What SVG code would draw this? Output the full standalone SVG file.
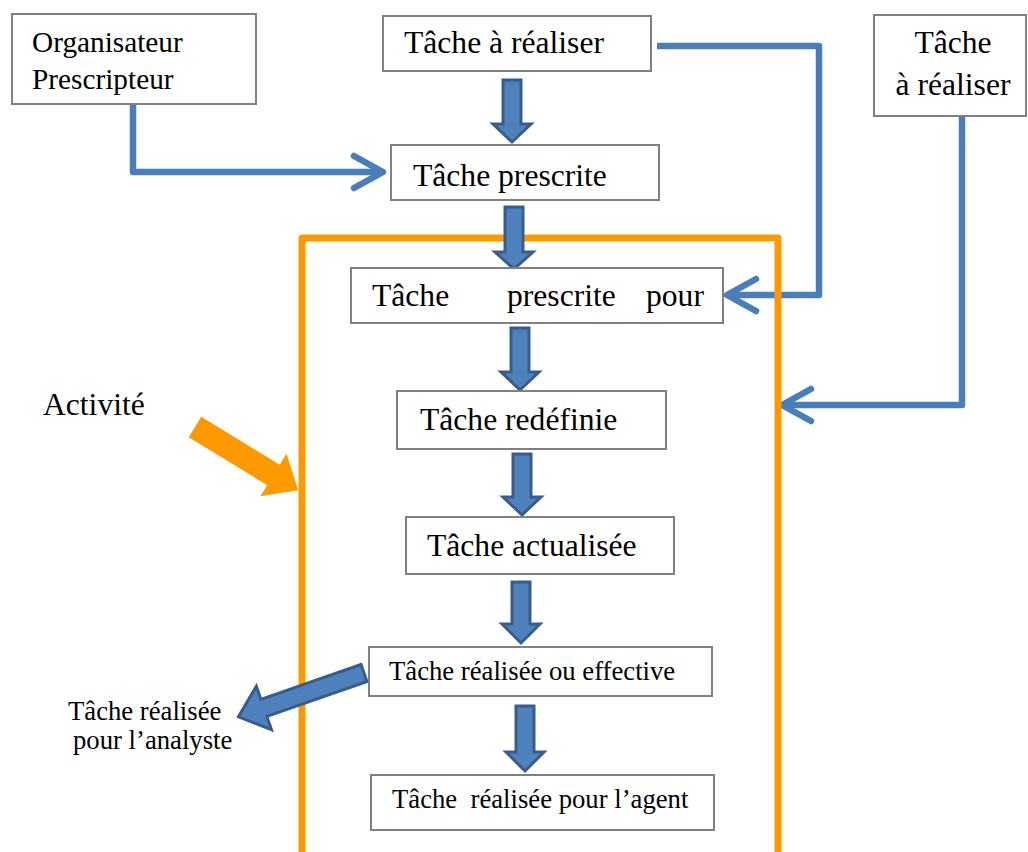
<svg xmlns="http://www.w3.org/2000/svg" width="1028" height="852" viewBox="0 0 1028 852">
<style>
.box{fill:#fff;stroke:#808080;stroke-width:2}
.t{font-family:"Liberation Serif","Times New Roman",serif;fill:#000}
.big{font-size:31.6px}
.mid{font-size:29.3px}
.sm{font-size:26.7px}
.conn{fill:none;stroke:#4a7ebb;stroke-width:6.5;stroke-linejoin:round}
.blk{fill:#4f81bd;stroke:#385d8a;stroke-width:3;stroke-linejoin:miter}
.org{fill:#ff9900}
</style>
<defs>
<marker id="chev" markerUnits="userSpaceOnUse" markerWidth="44" markerHeight="44" viewBox="-36 -22 44 44" refX="0" refY="0" orient="auto">
<path d="M-29,-16 L0,0 L-29,16" fill="none" stroke="#4a7ebb" stroke-width="6.5" stroke-linecap="round" stroke-linejoin="round"/>
</marker>
</defs>
<rect width="1028" height="852" fill="#fff"/>
<g id="connectors">
<path class="conn" d="M133,104 V172 H383" marker-end="url(#chev)"/>
<path class="conn" d="M657,46 H819 V295 H727" marker-end="url(#chev)"/>
<path class="conn" d="M962,116 V405 H782" marker-end="url(#chev)"/>
</g>
<g id="activite-frame">
<path d="M302,856 V238 H778 V856" fill="none" stroke="#ff9900" stroke-width="7" stroke-linejoin="round"/>
<polygon class="org" transform="translate(195,427) rotate(31.45)" points="0,-12 92,-12 92,-25 121,0 92,25 92,12 0,12"/>
</g>
<g id="flow-arrows">
<path class="blk" d="M503,80 H521 V124 H531 L512,142 L493,124 H503 Z"/>
<path class="blk" d="M505,207 H523 V252 H533 L514,269 L495,252 H505 Z"/>
<path class="blk" d="M511,328 H529 V372 H539 L520,390 L501,372 H511 Z"/>
<path class="blk" d="M513,454 H531 V497 H541 L522,515 L503,497 H513 Z"/>
<path class="blk" d="M512,582 H530 V624 H540 L521,643 L502,624 H512 Z"/>
<path class="blk" d="M516,706 H534 V752 H544 L525,771 L506,752 H516 Z"/>
<polygon class="blk" transform="translate(364,673) rotate(160.75)" points="0,-9 106,-9 106,-23 133,0 106,23 106,9 0,9"/>
</g>
<g id="node-organisateur">
<rect class="box" x="12" y="14" width="244" height="90"/>
<text class="t mid" x="32" y="52">Organisateur</text>
<text class="t mid" x="32" y="89">Prescripteur</text>
</g>
<g id="node-tache-a-realiser">
<rect class="box" x="383" y="16" width="268" height="55"/>
<text class="t big" x="404" y="53">Tâche à réaliser</text>
</g>
<g id="node-tache-a-realiser-2">
<rect class="box" x="874" y="15" width="152" height="101"/>
<text class="t big" x="953" y="53" text-anchor="middle">Tâche</text>
<text class="t big" x="953" y="95" text-anchor="middle">à réaliser</text>
</g>
<g id="node-tache-prescrite">
<rect class="box" x="391" y="145" width="268" height="55"/>
<text class="t big" x="413" y="186">Tâche prescrite</text>
</g>
<g id="node-tache-prescrite-pour">
<rect class="box" x="351" y="268" width="372" height="55"/>
<text class="t big" y="306"><tspan x="372">Tâche</tspan><tspan x="507">prescrite</tspan><tspan x="646">pour</tspan></text>
</g>
<g id="node-tache-redefinie">
<rect class="box" x="397" y="391" width="269" height="58"/>
<text class="t big" x="420" y="430">Tâche redéfinie</text>
</g>
<g id="node-tache-actualisee">
<rect class="box" x="406" y="517" width="268" height="57"/>
<text class="t big" x="427" y="556">Tâche actualisée</text>
</g>
<g id="node-tache-realisee">
<rect class="box" x="369" y="647" width="343" height="49"/>
<text class="t sm" x="389" y="680">Tâche réalisée ou effective</text>
</g>
<g id="node-tache-agent">
<rect class="box" x="371" y="775" width="343" height="55"/>
<text class="t sm" x="392" y="808" xml:space="preserve">Tâche  réalisée pour l’agent</text>
</g>
<g id="label-activite">
<text class="t big" x="43" y="415">Activité</text>
</g>
<g id="label-analyste">
<text class="t sm" x="68" y="720">Tâche réalisée</text>
<text class="t sm" x="73" y="749">pour l’analyste</text>
</g>
</svg>
